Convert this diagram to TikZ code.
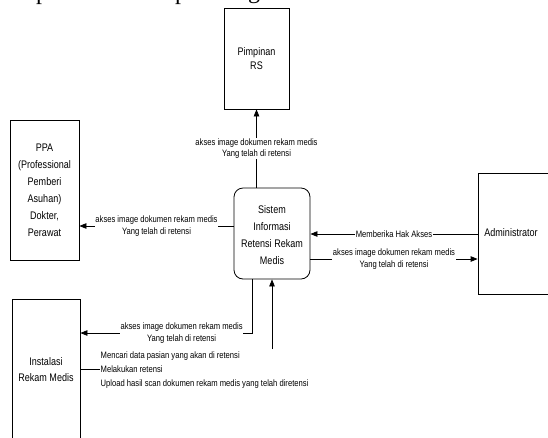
\documentclass[tikz,border=0pt]{standalone}
\usepackage{fontspec}
\setmainfont[FakeStretch=0.82]{Liberation Sans}
\newfontfamily\serifx{Liberation Serif}
\usetikzlibrary{arrows.meta}
\begin{document}
\begin{tikzpicture}[x=1pt,y=-1pt,
  ent/.style={draw,line width=0.8pt,inner sep=0pt},
  big/.style={font=\fontsize{11}{17}\selectfont,align=center},
  lbl/.style={font=\fontsize{9.3}{11.5}\selectfont,align=center,inner sep=0.5pt,fill=white},
  flow/.style={-{Triangle[length=7pt,width=5.5pt]},line width=0.8pt},
  plain/.style={line width=0.8pt},
  cutglyph/.style={font=\serifx\fontsize{24}{24}\selectfont,anchor=base,inner sep=0pt}]
\useasboundingbox (0,0) rectangle (548,437);
% clipped line of text above (only descenders visible)
\begin{scope}
\clip (0,0) rectangle (548,437);
\node[cutglyph] (g1) at (42,-0.6) {p};
\node[cutglyph] (g2) at (181,-0.6) {p};
\node[cutglyph] (g3) at (254,-1.5) {g};
\end{scope}
% entities
\node[ent,minimum width=65pt,minimum height=101pt] (pim) at (256.5,58.5) {};
\node[font=\fontsize{11}{14}\selectfont,align=center] (pimt) at (256.5,59) {Pimpinan\\RS};
\node[ent,minimum width=69pt,minimum height=140pt] (ppa) at (44.5,190) {};
\node[big] (ppat) at (44.5,190) {PPA\\(Professional\\Pemberi\\Asuhan)\\Dokter,\\Perawat};
\node[ent,rounded corners=9pt,minimum width=76pt,minimum height=91pt] (si) at (272,233.5) {};
\node[big] (sit) at (272,235) {Sistem\\Informasi\\Retensi Rekam\\Medis};
\node[ent,minimum width=82pt,minimum height=121pt] (adm) at (519,233.5) {};
\node[big] (admt) at (511,233) {Administrator};
\node[ent,minimum width=68pt,minimum height=151pt] (ins) at (46,374.5) {};
\node[font=\fontsize{11}{16}\selectfont,align=center] (inst) at (46,370) {Instalasi\\Rekam Medis};
% helper coordinates
\coordinate (ya) at (0,226);
\coordinate (yb) at (0,234);
\coordinate (yc) at (0,259);
\coordinate (yd) at (0,333);
\coordinate (ye) at (0,369);
\coordinate (xd) at (252,0);
\coordinate (up) at (272,349);
\coordinate (insend) at (100,369);
% flows
\draw[flow] (pim.south |- si.north) -- (pim.south)
  node[lbl,pos=0.5] {akses image dokumen rekam medis\\Yang telah di retensi};
\draw[flow] (si.west |- ya) -- (ppa.east |- ya)
  node[lbl,pos=0.5] {akses image dokumen rekam medis\\Yang telah di retensi};
\draw[flow] (adm.west |- yb) -- (si.east |- yb)
  node[lbl,pos=0.5] {Memberika Hak Akses};
\draw[flow] (si.east |- yc) -- (adm.west |- yc)
  node[lbl,pos=0.5] {akses image dokumen rekam medis\\Yang telah di retensi};
\draw[flow] (xd |- si.south) -- (xd |- yd) -- (ins.east |- yd)
  node[lbl,pos=0.41] {akses image dokumen rekam medis\\Yang telah di retensi};
\draw[plain] (ins.east |- ye) -- (insend);
\node[font=\fontsize{9.3}{14}\selectfont,align=left,anchor=west,inner sep=0.5pt] (acts) at (100,370)
  {Mencari data pasian yang akan di retensi\\Melakukan retensi\\Upload hasil scan dokumen rekam medis yang telah diretensi};
\draw[flow] (up) -- (si.south);
\end{tikzpicture}
\end{document}
